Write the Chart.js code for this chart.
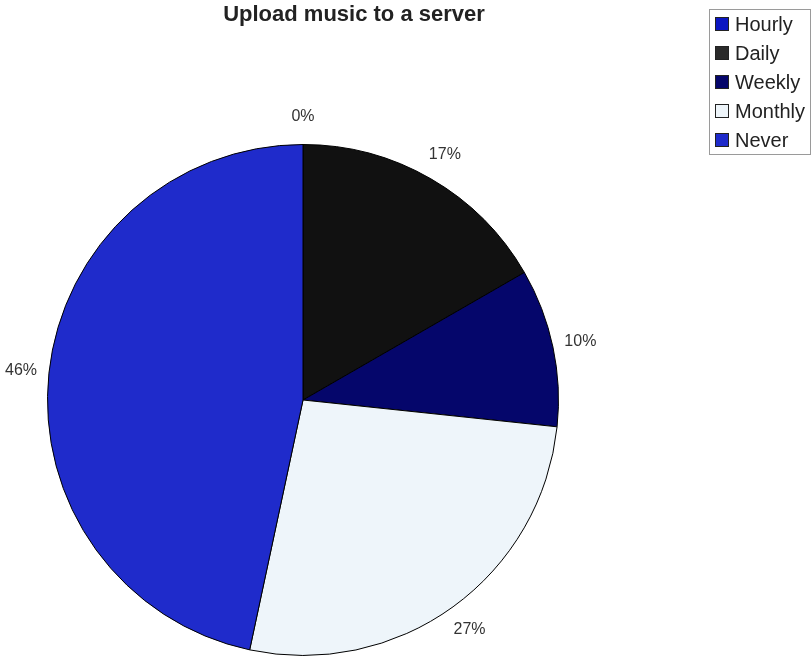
<!DOCTYPE html>
<html>
<head>
<meta charset="utf-8">
<title>Upload music to a server</title>
<script src="https://cdn.jsdelivr.net/npm/chart.js@4.4.1/dist/chart.umd.min.js"></script>
<style>
  html, body { margin: 0; padding: 0; background: #ffffff; }
  #wrap { width: 811px; height: 657px; }
</style>
</head>
<body>
<div id="wrap"><canvas id="myChart" width="811" height="657"></canvas></div>
<script>
// Chart data (shares, in percent)
var categories = ['Hourly', 'Daily', 'Weekly', 'Monthly', 'Never'];
var shares = [0, 16.7, 10.0, 26.7, 46.7];
var shareLabels = ['0%', '17%', '10%', '27%', '46%'];
var sliceColors = ['#0b16c2', '#111111', '#05066b', '#eef5fa', '#1f2bcb'];
var legendColors = ['#0b16c2', '#2a2a2a', '#05066b', '#eef5fa', '#1f2bcb'];
var chartTitle = 'Upload music to a server';

// draws title, outside percent labels and the legend box
var decorations = {
    id: 'decorations',
    afterDraw: function(chart) {
        var ctx = chart.ctx;
        ctx.save();

        // title
        ctx.fillStyle = '#222222';
        ctx.font = 'bold 22px "Liberation Sans", Arial, sans-serif';
        ctx.textAlign = 'center';
        ctx.textBaseline = 'middle';
        ctx.fillText(chartTitle, 354, 15);

        // percent labels outside each slice
        var meta = chart.getDatasetMeta(0);
        ctx.font = '16px "Liberation Sans", Arial, sans-serif';
        ctx.fillStyle = '#333333';
        meta.data.forEach(function(arc, i) {
            var p = arc.getProps(['x', 'y', 'startAngle', 'endAngle', 'outerRadius'], true);
            var mid = (p.startAngle + p.endAngle) / 2;
            var r = p.outerRadius + 28;
            ctx.fillText(shareLabels[i], p.x + Math.cos(mid) * r, p.y + Math.sin(mid) * r);
        });

        // legend
        ctx.strokeStyle = '#9a9a9a';
        ctx.lineWidth = 1;
        ctx.strokeRect(709.5, 9.5, 101, 145);
        ctx.textAlign = 'left';
        ctx.font = '20px "Liberation Sans", Arial, sans-serif';
        categories.forEach(function(name, i) {
            var y = 24 + i * 29;
            ctx.fillStyle = legendColors[i];
            ctx.fillRect(715, y - 7, 14, 14);
            ctx.strokeStyle = '#222222';
            ctx.strokeRect(715.5, y - 6.5, 13, 13);
            ctx.fillStyle = '#222222';
            ctx.fillText(name, 735, y + 1);
        });

        ctx.restore();
    }
};

var ctx = document.getElementById('myChart').getContext('2d');
var myChart = new Chart(ctx, {
    type: 'pie',
    data: {
        labels: categories,
        datasets: [{
            data: shares,
            backgroundColor: sliceColors,
            borderColor: '#000000',
            borderWidth: 1
        }]
    },
    options: {
        responsive: false,
        animation: false,
        layout: {
            padding: { left: 47, right: 252, top: 144, bottom: 1 }
        },
        plugins: {
            legend: { display: false },
            title: { display: false },
            tooltip: { enabled: false }
        }
    },
    plugins: [decorations]
});
</script>
</body>
</html>
